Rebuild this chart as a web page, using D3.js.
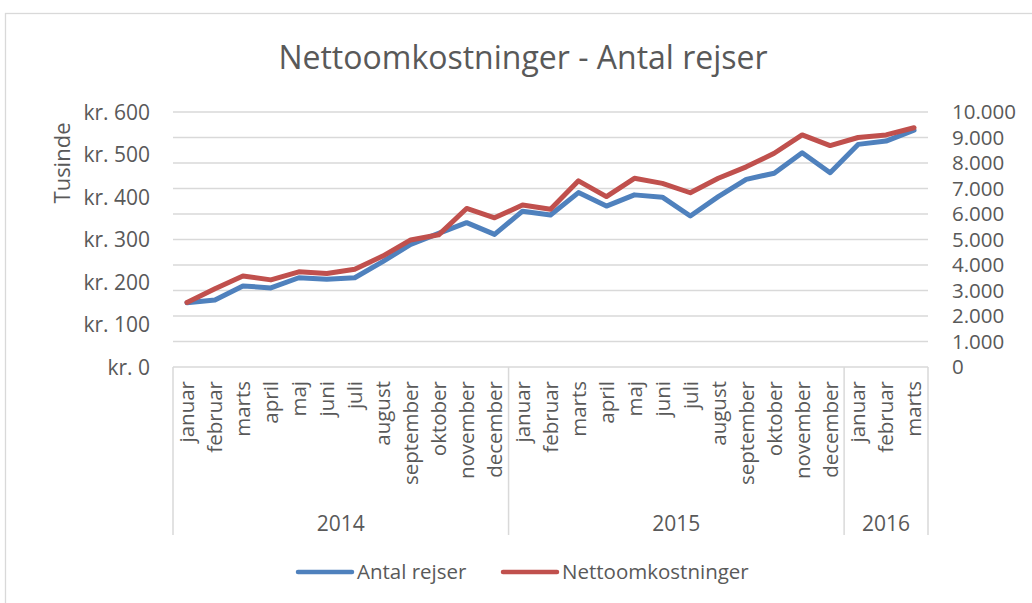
<!DOCTYPE html>
<html>
<head>
<meta charset="utf-8">
<script src="https://cdn.jsdelivr.net/npm/d3@7"></script>
<style>
	body { margin: 0; background: #fff; }
	text { font-family: "Open Sans", sans-serif; fill: #595959; }
</style>
</head>
<body>
<div id="chart"></div>
<script>
var months = ["januar", "februar", "marts", "april", "maj", "juni", "juli", "august", "september", "oktober", "november", "december",
	"januar", "februar", "marts", "april", "maj", "juni", "juli", "august", "september", "oktober", "november", "december",
	"januar", "februar", "marts"];
var years = ["2014", "2015", "2016"];
var yearCounts = [12, 12, 3];

// antal rejser (right axis)
var antalRejser = [2520, 2630, 3180, 3100, 3500, 3440, 3500, 4130, 4810, 5240, 5660, 5200,
	6110, 5960, 6840, 6310, 6750, 6660, 5920, 6680, 7360, 7600, 8400, 7620,
	8730, 8860, 9290];
// nettoomkostninger, kr. tusinde (left axis)
var nettoomkostninger = [152, 184, 214, 205, 224, 220, 230, 261, 299, 311, 373, 351,
	381, 371, 438, 401, 444, 432, 410, 444, 471, 503, 546, 521,
	540, 546, 563];

var leftTicks = [0, 100, 200, 300, 400, 500, 600];
var rightTicks = [0, 1000, 2000, 3000, 4000, 5000, 6000, 7000, 8000, 9000, 10000];

var W = 1032, H = 603;
var plot = { left: 173, right: 928, top: 112, bottom: 367 };
var grey = "#d9d9d9";

var svg = d3.select("#chart").append("svg")
	.attr("width", W)
	.attr("height", H);

// chart border
svg.append("rect")
	.attr("x", 5.5).attr("y", 13.5)
	.attr("width", W + 10).attr("height", H + 10)
	.attr("fill", "none")
	.attr("stroke", grey)
	.attr("stroke-width", 1.3);

svg.append("text")
	.attr("x", 523).attr("y", 69)
	.attr("text-anchor", "middle")
	.style("font-size", "32px")
	.text("Nettoomkostninger - Antal rejser");

var x = d3.scaleBand()
	.domain(d3.range(months.length))
	.range([plot.left, plot.right]);

var yLeft = d3.scaleLinear().domain([0, 600]).range([plot.bottom, plot.top]);
var yRight = d3.scaleLinear().domain([0, 10000]).range([plot.bottom, plot.top]);

// gridlines follow the right axis
svg.append("g")
	.selectAll("line")
	.data(rightTicks.slice(1))
	.enter().append("line")
	.attr("x1", plot.left).attr("x2", plot.right)
	.attr("y1", function (d) { return yRight(d); })
	.attr("y2", function (d) { return yRight(d); })
	.attr("stroke", grey)
	.attr("stroke-width", 1.5);

svg.append("g")
	.selectAll("text")
	.data(leftTicks)
	.enter().append("text")
	.attr("x", 150)
	.attr("y", function (d) { return yLeft(d); })
	.attr("dy", "0.36em")
	.attr("text-anchor", "end")
	.style("font-size", "21px")
	.text(function (d) { return "kr. " + d; });

var fmtRight = d3.formatLocale({ decimal: ",", thousands: ".", grouping: [3], currency: ["", ""] }).format(",");
svg.append("g")
	.selectAll("text")
	.data(rightTicks)
	.enter().append("text")
	.attr("x", 952)
	.attr("y", function (d) { return yRight(d); })
	.attr("dy", "0.36em")
	.style("font-size", "20.5px")
	.text(function (d) { return fmtRight(d); });

svg.append("text")
	.attr("transform", "translate(62,163) rotate(-90)")
	.attr("dy", "0.36em")
	.attr("text-anchor", "middle")
	.style("font-size", "22px")
	.text("Tusinde");

// category axis
svg.append("line")
	.attr("x1", plot.left).attr("x2", plot.right)
	.attr("y1", plot.bottom).attr("y2", plot.bottom)
	.attr("stroke", grey).attr("stroke-width", 1.5);

var edges = [0];
yearCounts.forEach(function (c, i) { edges.push(edges[i] + c); });

svg.append("g")
	.selectAll("line")
	.data(edges)
	.enter().append("line")
	.attr("x1", function (d) { return d < months.length ? x(d) : plot.right; })
	.attr("x2", function (d) { return d < months.length ? x(d) : plot.right; })
	.attr("y1", plot.bottom).attr("y2", 535)
	.attr("stroke", grey).attr("stroke-width", 1.5);

svg.append("g")
	.selectAll("text")
	.data(months)
	.enter().append("text")
	.attr("transform", function (d, i) {
		return "translate(" + (x(i) + x.bandwidth() / 2) + ",381) rotate(-90)";
	})
	.attr("dy", "0.36em")
	.attr("text-anchor", "end")
	.style("font-size", "20.5px")
	.text(function (d) { return d; });

svg.append("g")
	.selectAll("text")
	.data(years)
	.enter().append("text")
	.attr("x", function (d, i) {
		var a = x(edges[i]);
		var b = edges[i + 1] < months.length ? x(edges[i + 1]) : plot.right;
		return (a + b) / 2;
	})
	.attr("y", 523)
	.attr("dy", "0.36em")
	.attr("text-anchor", "middle")
	.style("font-size", "21px")
	.text(function (d) { return d; });

// lines
var series = [
	{ name: "Antal rejser", values: antalRejser, scale: yRight, color: "#4F81BD" },
	{ name: "Nettoomkostninger", values: nettoomkostninger, scale: yLeft, color: "#C0504D" }
];

series.forEach(function (s) {
	svg.append("path")
		.datum(s.values)
		.attr("fill", "none")
		.attr("stroke", s.color)
		.attr("stroke-width", 5)
		.attr("stroke-linejoin", "round")
		.attr("stroke-linecap", "round")
		.attr("d", d3.line()
			.x(function (d, i) { return x(i) + x.bandwidth() / 2; })
			.y(function (d) { return s.scale(d); })
		);
});

// legend
var legendX = [298, 503];
var legend = svg.append("g")
	.selectAll("g")
	.data(series)
	.enter().append("g")
	.attr("transform", function (d, i) { return "translate(" + legendX[i] + ",572)"; });
legend.append("line")
	.attr("x1", 0).attr("x2", 54)
	.attr("stroke", function (d) { return d.color; })
	.attr("stroke-width", 4.5)
	.attr("stroke-linecap", "round");
legend.append("text")
	.attr("x", 59)
	.attr("dy", "0.36em")
	.style("font-size", "20.5px")
	.text(function (d) { return d.name; });
</script>
</body>
</html>
